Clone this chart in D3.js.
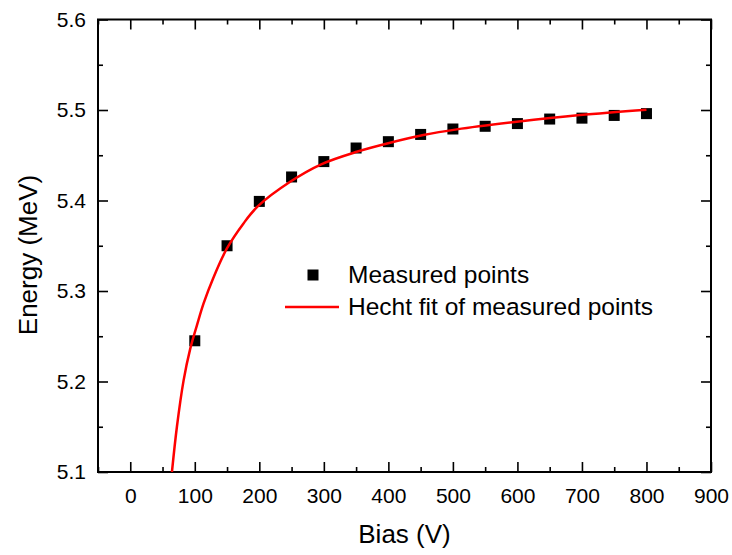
<!DOCTYPE html>
<html>
<head>
<meta charset="utf-8">
<script src="https://cdn.jsdelivr.net/npm/d3@7"></script>
<style>
  body { margin: 0; background: #fff; }
  svg text { font-family: "Liberation Sans", Arial, sans-serif; fill: #000; }
</style>
</head>
<body>
<script>
// measured points
const biasV = [100, 150, 200, 250, 300, 350, 400, 450, 500, 550, 600, 650, 700, 750, 800];
const energyMeV = [5.245, 5.350, 5.399, 5.426, 5.443, 5.458, 5.465, 5.473, 5.479, 5.482, 5.485, 5.490, 5.491, 5.494, 5.496];

// Hecht fit curve
const fitBias = [64.6, 72.3, 82.6, 92.9, 103.3, 113.5, 129, 149.8, 175.5, 198.3, 247.8, 295.9, 351, 402.7, 454.3, 506, 599, 697, 800];
const fitEnergy = [5.100, 5.150, 5.201, 5.236, 5.262, 5.286, 5.315, 5.347, 5.3747, 5.394, 5.4207, 5.440, 5.4538, 5.4638, 5.4723, 5.4786, 5.4870, 5.4944, 5.5003];

const xTicks = [0, 100, 200, 300, 400, 500, 600, 700, 800, 900];
const yTicks = [5.1, 5.2, 5.3, 5.4, 5.5, 5.6];
const legendLabels = ["Measured points", "Hecht fit of measured points"];

const W = 732, H = 555;
const margin = { top: 19.5, right: 21, bottom: 83, left: 98 };
const width = W - margin.left - margin.right;
const height = H - margin.top - margin.bottom;

const svg = d3.select("body").append("svg")
    .attr("width", W)
    .attr("height", H);

const g = svg.append("g")
    .attr("transform", "translate(" + margin.left + "," + margin.top + ")");

const x = d3.scaleLinear().domain([-50, 900]).range([0, width]);
const y = d3.scaleLinear().domain([5.1, 5.6]).range([height, 0]);

const xMinor = d3.range(-50, 901, 50).filter(v => v % 100 !== 0);
const yMinor = [5.15, 5.25, 5.35, 5.45, 5.55];

// major axes with labels
g.append("g")
    .attr("class", "axis")
    .attr("transform", "translate(0," + height + ")")
    .call(d3.axisBottom(x).tickValues(xTicks).tickSizeInner(-10).tickSizeOuter(0).tickPadding(16));

g.append("g")
    .attr("class", "axis")
    .call(d3.axisLeft(y).tickValues(yTicks).tickFormat(d3.format(".1f")).tickSizeInner(-10).tickSizeOuter(0).tickPadding(12));

// mirrored axes
g.append("g").attr("class", "axis mirror")
    .call(d3.axisTop(x).tickValues(xTicks).tickSizeInner(-10).tickSizeOuter(0).tickFormat(""));
g.append("g").attr("class", "axis mirror")
    .attr("transform", "translate(" + width + ",0)")
    .call(d3.axisRight(y).tickValues(yTicks).tickSizeInner(-10).tickSizeOuter(0).tickFormat(""));

// minor ticks
g.append("g").attr("class", "axis")
    .attr("transform", "translate(0," + height + ")")
    .call(d3.axisBottom(x).tickValues(xMinor).tickSizeInner(-5).tickSizeOuter(0).tickFormat(""));
g.append("g").attr("class", "axis")
    .call(d3.axisTop(x).tickValues(xMinor).tickSizeInner(-5).tickSizeOuter(0).tickFormat(""));
g.append("g").attr("class", "axis")
    .call(d3.axisLeft(y).tickValues(yMinor).tickSizeInner(-5).tickSizeOuter(0).tickFormat(""));
g.append("g").attr("class", "axis")
    .attr("transform", "translate(" + width + ",0)")
    .call(d3.axisRight(y).tickValues(yMinor).tickSizeInner(-5).tickSizeOuter(0).tickFormat(""));

g.selectAll(".axis .domain").remove();
g.selectAll(".axis line").attr("stroke", "#000").attr("stroke-width", 1.6);
g.selectAll(".axis text").attr("font-size", 21).style("font-family", "Liberation Sans, Arial, sans-serif");

// frame
g.append("rect")
    .attr("width", width)
    .attr("height", height)
    .attr("fill", "none")
    .attr("stroke", "#000")
    .attr("stroke-width", 2);

// clip for the fit curve
svg.append("clipPath").attr("id", "plotClip")
    .append("rect").attr("width", width).attr("height", height);

const fitData = fitBias.map((v, i) => [v, fitEnergy[i]]);
const line = d3.line()
    .x(d => x(d[0]))
    .y(d => y(d[1]))
    .curve(d3.curveCatmullRom.alpha(0.5));

const ms = 11;
g.selectAll("rect.pt")
    .data(biasV.map((v, i) => [v, energyMeV[i]]))
    .enter().append("rect")
    .attr("class", "pt")
    .attr("x", d => x(d[0]) - ms / 2)
    .attr("y", d => y(d[1]) - ms / 2)
    .attr("width", ms)
    .attr("height", ms)
    .attr("fill", "#000");

g.append("path")
    .datum(fitData)
    .attr("clip-path", "url(#plotClip)")
    .attr("fill", "none")
    .attr("stroke", "#ff0000")
    .attr("stroke-width", 2.5)
    .attr("d", line);

// legend
const legend = svg.append("g").attr("transform", "translate(285,275)");
legend.append("rect")
    .attr("x", 28 - 5.5).attr("y", -5.5)
    .attr("width", 11).attr("height", 11)
    .attr("fill", "#000");
legend.append("line")
    .attr("x1", 0).attr("x2", 54)
    .attr("y1", 32).attr("y2", 32)
    .attr("stroke", "#ff0000").attr("stroke-width", 2.5);
legend.selectAll("text")
    .data(legendLabels)
    .enter().append("text")
    .attr("x", 63)
    .attr("y", (d, i) => 8 + i * 32)
    .attr("font-size", 24.5)
    .text(d => d);

// axis titles
svg.append("text")
    .attr("x", margin.left + width / 2)
    .attr("y", 543)
    .attr("text-anchor", "middle")
    .attr("font-size", 26)
    .text("Bias (V)");

svg.append("text")
    .attr("transform", "translate(37,255) rotate(-90)")
    .attr("text-anchor", "middle")
    .attr("font-size", 26)
    .text("Energy (MeV)");
</script>
</body>
</html>
